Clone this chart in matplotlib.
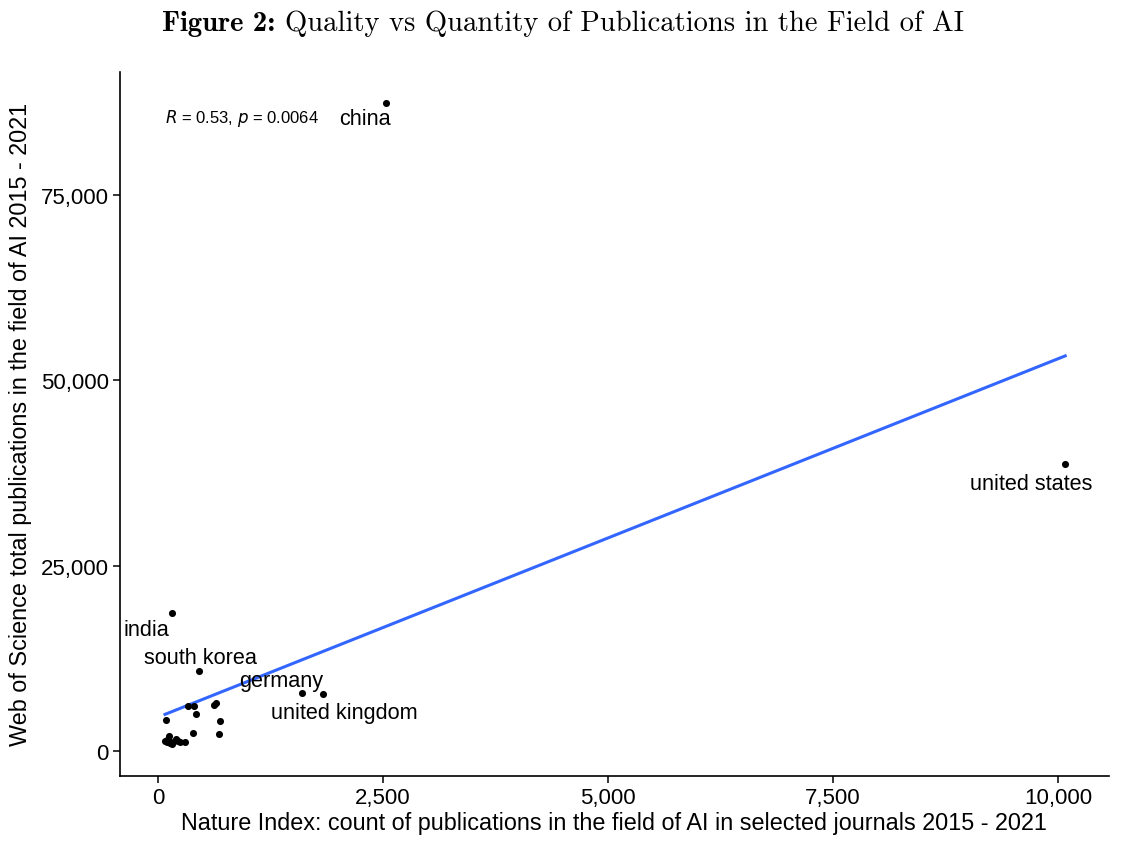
import matplotlib

matplotlib.use("Agg")
import matplotlib.pyplot as plt
import numpy as np
from matplotlib.ticker import FuncFormatter

# Nature Index AI count (x) vs Web of Science AI publications (y), 2015-2021
nature_index = [2535, 10080, 152, 456, 1598, 1831,
                85, 337, 404, 423, 626, 645, 689, 682, 386, 300,
                78, 115, 133, 170, 200, 226, 96, 152, 245, 120]
wos_pubs = [87400, 38700, 18600, 10830, 7870, 7650,
            4180, 6030, 6030, 4990, 6200, 6480, 4000, 2290, 2430, 1170,
            1390, 1620, 1080, 1255, 1620, 1390, 1170, 945, 1255, 2000]
labels = ["china", "united states", "india", "south korea", "germany", "united kingdom"]
# label centres (data units), as placed by the repel step in the original
label_x = [2300, 9700, -125, 470, 1370, 2075]
label_y = [85300, 36100, 16400, 12600, 9450, 5200]

x = np.array(nature_index, dtype=float)
y = np.array(wos_pubs, dtype=float)
slope, intercept = np.polyfit(x, y, 1)

fig = plt.figure(figsize=(11.42, 8.45), dpi=100)
ax = fig.add_axes([0.105, 0.0805, 0.866, 0.8335])

xs = np.array([x.min(), x.max()])
ax.plot(xs, intercept + slope * xs, color="#3366FF", lw=2.2, zorder=2)
ax.scatter(x, y, s=26, color="black", zorder=3, linewidths=0)

for lab, lx, ly in zip(labels, label_x, label_y):
    ax.text(lx, ly, lab, ha="center", va="center", fontsize=15.6,
            family="Liberation Sans", color="black")

ax.text(78, 85400, r"$\it{R}$ = 0.53, $\it{p}$ = 0.0064", ha="left", va="center",
        fontsize=12, family="Liberation Sans")

ax.set_xlim(-423, 10565)
ax.set_ylim(-3370, 91600)
ax.set_xticks([0, 2500, 5000, 7500, 10000])
ax.set_yticks([0, 25000, 50000, 75000])
fmt = FuncFormatter(lambda v, _: f"{int(v):,}")
ax.xaxis.set_major_formatter(fmt)
ax.yaxis.set_major_formatter(fmt)
for lab in ax.get_xticklabels() + ax.get_yticklabels():
    lab.set_family("Liberation Sans")
    lab.set_fontsize(16)
ax.tick_params(length=5, width=1.1, color="black", pad=3)
for side in ["top", "right"]:
    ax.spines[side].set_visible(False)
for side in ["left", "bottom"]:
    ax.spines[side].set_linewidth(1.2)

ax.set_xlabel("Nature Index: count of publications in the field of AI in selected journals 2015 - 2021",
              fontsize=16.8, family="Liberation Sans", labelpad=2)
ax.set_ylabel("Web of Science total publications in the field of AI 2015 - 2021",
              fontsize=16.8, family="Liberation Sans", labelpad=6)

# title: bold "Figure 2:" followed by roman text, in Computer Modern
fig.canvas.draw()
renderer = fig.canvas.get_renderer()
t1 = fig.text(0, 0.972, "Figure 2:", family="cmb10", fontsize=20.6, ha="left", va="center")
t2 = fig.text(0, 0.972, "Quality vs Quantity of Publications in the Field of AI",
              family="cmr10", fontsize=20.6, ha="left", va="center")
w1 = t1.get_window_extent(renderer).width
w2 = t2.get_window_extent(renderer).width
gap = 9
total = w1 + gap + w2
x0 = 563 - total / 2
W = fig.get_figwidth() * fig.dpi
t1.set_x(x0 / W)
t2.set_x((x0 + w1 + gap) / W)

fig.savefig("out.png", dpi=100)
